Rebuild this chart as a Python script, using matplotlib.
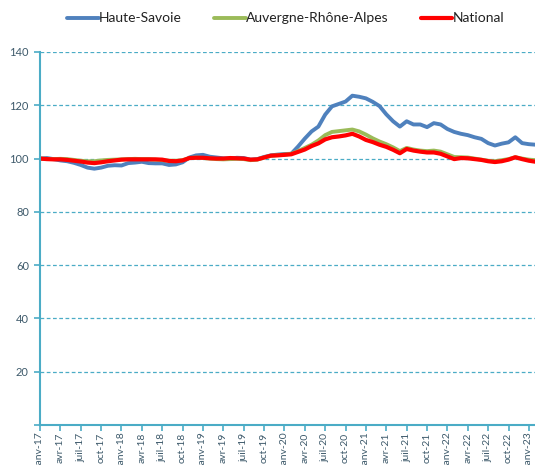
import matplotlib
matplotlib.use("Agg")
import matplotlib.pyplot as plt
import numpy as np

plt.rcParams['font.family'] = ['Lato', 'DejaVu Sans']

mois = ["janv", "févr", "mars", "avr", "mai", "juin",
        "juil", "août", "sept", "oct", "nov", "déc"]
# janv-17 .. févr-23
dates = [f"{mois[k % 12]}-{17 + k // 12}" for k in range(74)]

haute_savoie = [
    100.0, 100.2, 99.8, 99.3, 99.0, 98.4, 97.6, 96.6, 96.2, 96.6, 97.3, 97.5,
    97.4, 98.3, 98.5, 98.8, 98.3, 98.2, 98.2, 97.6, 97.8, 98.6, 100.4, 101.2,
    101.4, 100.7, 100.4, 100.1, 100.0, 100.3, 100.2, 99.6, 99.8, 100.6, 101.2, 101.5,
    101.7, 101.8, 104.5, 107.5, 110.2, 112.0, 116.5, 119.6, 120.5, 121.4, 123.6, 123.2,
    122.6, 121.3, 119.7, 116.6, 114.0, 112.0, 114.0, 112.8, 112.8, 111.8, 113.3, 112.8,
    111.1, 110.0, 109.3, 108.8, 108.0, 107.4, 105.8, 104.9, 105.6, 106.1, 108.0, 105.8,
    105.4, 105.2]

auvergne_rhone_alpes = [
    100.0, 99.9, 99.8, 99.9, 99.8, 99.5, 99.2, 99.0, 99.0, 99.3, 99.5, 99.6,
    99.7, 99.8, 99.9, 99.8, 99.8, 99.6, 99.4, 99.2, 99.2, 99.4, 100.2, 100.4,
    100.2, 100.0, 99.8, 99.7, 99.8, 99.9, 99.8, 99.4, 99.6, 100.4, 101.0, 101.3,
    101.5, 101.8, 102.8, 104.0, 105.2, 106.8, 108.8, 110.0, 110.3, 110.6, 110.9, 110.2,
    109.0, 107.6, 106.4, 105.4, 104.2, 102.8, 104.0, 103.4, 103.0, 102.8, 103.0, 102.6,
    101.6, 100.6, 100.5, 100.4, 100.0, 99.6, 99.2, 99.0, 99.4, 99.8, 100.5, 100.0,
    99.6, 99.4]

national = [
    100.0, 99.8, 99.7, 99.7, 99.5, 99.2, 98.9, 98.5, 98.3, 98.6, 99.0, 99.3,
    99.6, 99.7, 99.7, 99.7, 99.7, 99.7, 99.6, 99.1, 99.0, 99.3, 100.2, 100.3,
    100.3, 100.1, 100.0, 100.0, 100.2, 100.1, 100.0, 99.6, 99.7, 100.4, 101.1, 101.2,
    101.4, 101.6, 102.5, 103.4, 104.7, 105.7, 107.2, 108.0, 108.3, 108.7, 109.3, 108.3,
    107.0, 106.2, 105.2, 104.4, 103.3, 102.0, 103.6, 103.0, 102.6, 102.3, 102.3, 101.8,
    100.8, 99.8, 100.2, 100.1, 99.8, 99.5, 99.0, 98.7, 99.0, 99.6, 100.5, 99.8,
    99.2, 98.8]

teal = "#4BACC6"
label_color = "#3E5A6B"

fig = plt.figure(figsize=(5.35, 4.65), dpi=100)
ax = fig.add_axes([40 / 535, 1 - 425 / 465, 495 / 535, 373 / 465])

x = np.arange(len(dates))
ax.plot(x, haute_savoie, color="#4F81BD", lw=2.8, label="Haute-Savoie", solid_capstyle="round")
ax.plot(x, auvergne_rhone_alpes, color="#9BBB59", lw=2.8, label="Auvergne-Rhône-Alpes", solid_capstyle="round")
ax.plot(x, national, color="#FF0000", lw=3.0, label="National", solid_capstyle="round")

ax.set_ylim(0, 140)
ax.set_xlim(0, 72.9)
ax.set_yticks(np.arange(0, 141, 20))
ax.set_yticklabels(["", "20", "40", "60", "80", "100", "120", "140"])
ticks = x[:73:3]
ax.set_xticks(ticks)
ax.set_xticklabels([dates[t] for t in ticks], rotation=90)

ax.grid(axis="y", color=teal, linestyle=(0, (3, 2)), linewidth=0.9)
ax.set_axisbelow(True)
for s in ["top", "right"]:
    ax.spines[s].set_visible(False)
for s in ["left", "bottom"]:
    ax.spines[s].set_color(teal)
    ax.spines[s].set_linewidth(1.5)
ax.tick_params(axis="both", colors=teal, length=4, width=1.2, labelsize=8, labelcolor=label_color)
ax.tick_params(axis="x", pad=1.5, labelsize=7.5)
ax.tick_params(axis="y", pad=4)

fig.legend(loc="upper center", bbox_to_anchor=(0.534, 1.0), ncol=3, frameon=False,
           fontsize=10, handlelength=2.3, handletextpad=0.0, columnspacing=2.3,
           labelcolor="#222222")

fig.savefig("out.png", dpi=100)
